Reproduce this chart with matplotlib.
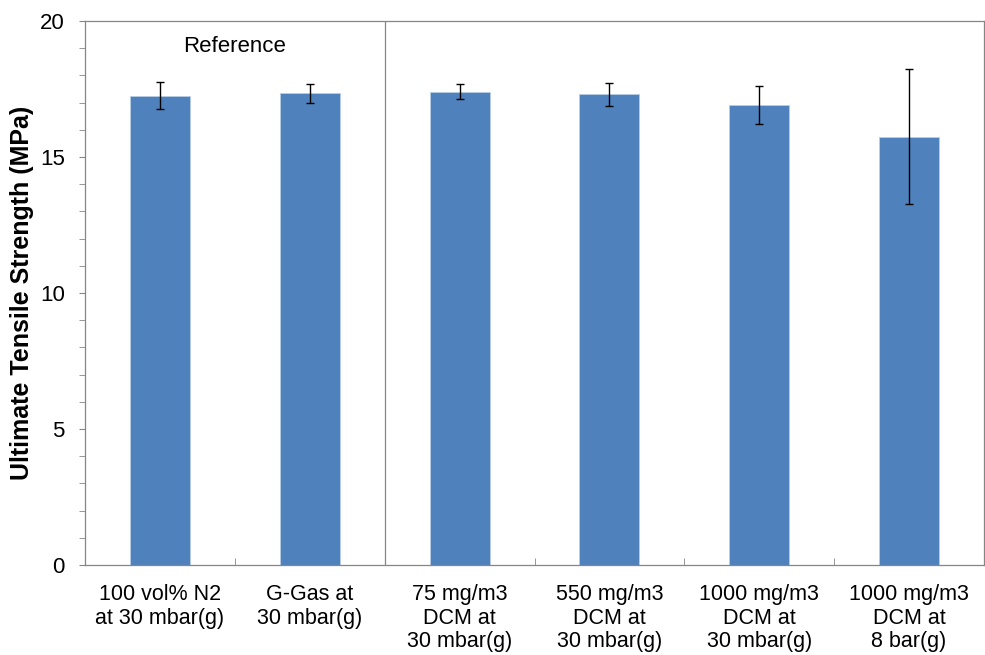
import matplotlib
matplotlib.use("Agg")
import matplotlib.pyplot as plt
import numpy as np
from matplotlib.ticker import MultipleLocator, FixedLocator

plt.rcParams["font.family"] = ["Liberation Sans", "DejaVu Sans"]

# data
categories = ["100 vol% N2\nat 30 mbar(g)", "G-Gas at\n30 mbar(g)",
              "75 mg/m3\nDCM at\n30 mbar(g)", "550 mg/m3\nDCM at\n30 mbar(g)",
              "1000 mg/m3\nDCM at\n30 mbar(g)", "1000 mg/m3\nDCM at\n8 bar(g)"]
strength = [17.25, 17.35, 17.4, 17.3, 16.9, 15.74]
errors = [0.5, 0.35, 0.28, 0.42, 0.7, 2.48]

grey = "#868686"
blue = "#4F81BD"

fig = plt.figure(figsize=(9.85, 6.55), dpi=100)
ax = fig.add_axes([0.0863, 0.1374, 0.9127, 0.8306])

x = np.arange(len(categories))
ax.bar(x, strength, width=0.4, color=blue, edgecolor="#B9CDE5", linewidth=0.6, zorder=2)
ax.errorbar(x, strength, yerr=errors, fmt="none", ecolor="black", elinewidth=1.0,
            capsize=3, capthick=1.0, zorder=3)

ax.set_xlim(-0.5, len(categories) - 0.5)
ax.set_ylim(0, 20)

# separator between reference cases and DCM cases
ax.axvline(1.5, color=grey, linewidth=0.9, zorder=1)
ax.text(0.5, 19.05, "Reference", ha="center", va="center", fontsize=16)

for s in ax.spines.values():
    s.set_color(grey)
    s.set_linewidth(0.9)

ax.yaxis.set_major_locator(MultipleLocator(5))
ax.yaxis.set_minor_locator(MultipleLocator(1))
ax.tick_params(axis="y", which="both", direction="out", length=4.5, color=grey,
               labelsize=16, pad=10)

ax.set_xticks(x)
ax.set_xticklabels(categories, linespacing=1.15)
ax.xaxis.set_minor_locator(FixedLocator(np.arange(0.5, len(categories) - 0.5, 1)))
ax.tick_params(axis="x", which="major", length=0, labelsize=15.5, pad=14)
ax.tick_params(axis="x", which="minor", direction="in", length=5, color=grey)

ax.set_ylabel("Ultimate Tensile Strength (MPa)", fontsize=18, fontweight="bold", labelpad=4)

fig.savefig("out.png", dpi=100)
